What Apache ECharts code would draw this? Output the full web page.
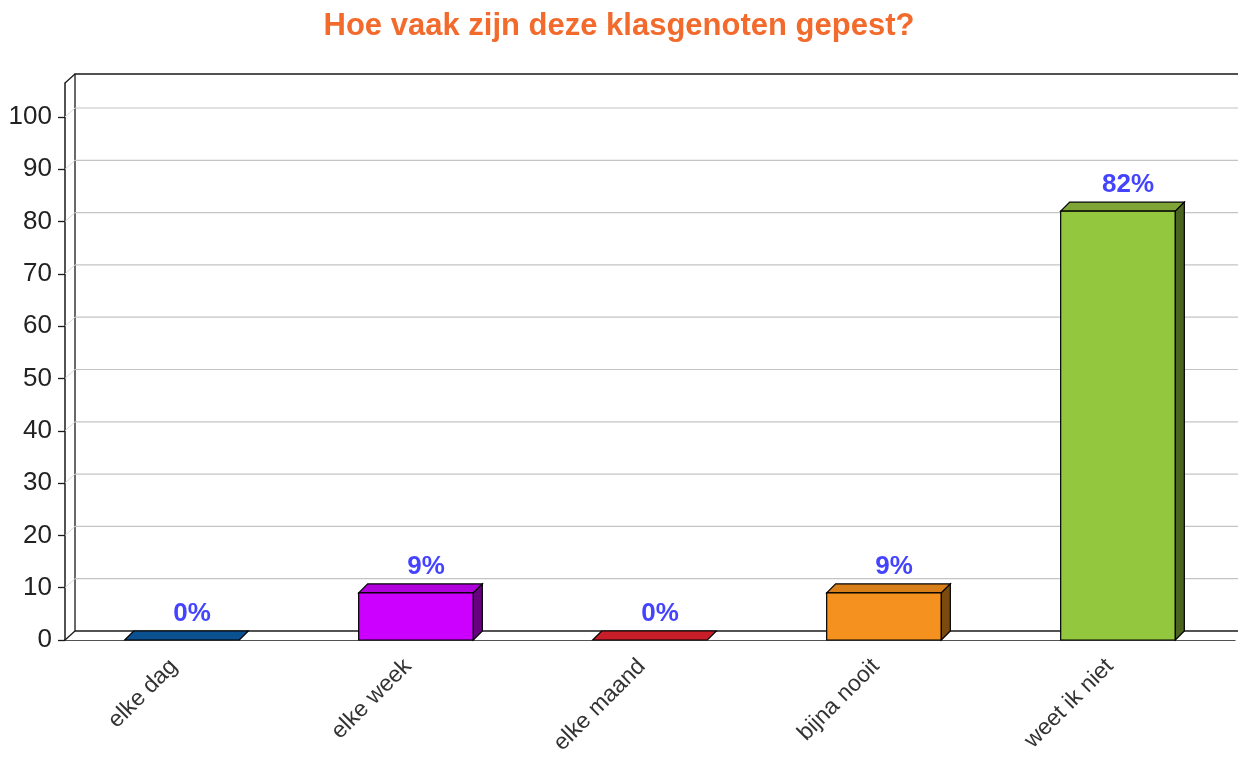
<!DOCTYPE html>
<html>
<head>
<meta charset="utf-8">
<script src="https://cdn.jsdelivr.net/npm/echarts@6/dist/echarts.min.js"></script>
<style>html,body{margin:0;padding:0;background:#fff}#c{width:1238px;height:758px}</style>
</head>
<body>
<div id="c"></div>
<script>
const titleText = 'Hoe vaak zijn deze klasgenoten gepest?';
const categories = ['elke dag', 'elke week', 'elke maand', 'bijna nooit', 'weet ik niet'];
const values = [0, 9, 0, 9, 82];
const yTicks = [0, 10, 20, 30, 40, 50, 60, 70, 80, 90, 100];
const barColors = [
  {front: '#0d5a9c', top: '#0b5190', side: '#073868'},
  {front: '#cc00ff', top: '#b000dc', side: '#66007f'},
  {front: '#d01f2c', top: '#c81e2a', side: '#6e1016'},
  {front: '#f5921f', top: '#d97f1a', side: '#7a4a10'},
  {front: '#92c73e', top: '#7ea535', side: '#4a6420'}
];

const FONT = '"Liberation Sans", Arial, sans-serif';
const BDX = 9, BDY = 9;   // bar depth
const WDX = 10, WDY = 9;  // wall depth

const chart = echarts.init(document.getElementById('c'), null, {renderer: 'canvas'});

function wallItem(params, api) {
  const cs = params.coordSys;
  const l = cs.x, r = cs.x + cs.width + 20, t = cs.y, b = cs.y + cs.height;
  const st = {stroke: '#1a1a1a', lineWidth: 1.3, fill: null};
  return {
    type: 'group',
    children: [
      {type: 'polygon', shape: {points: [[l, b], [l + WDX, b - WDY], [r, b - WDY], [r, b]]}, style: {fill: '#fff', stroke: null}},
      {type: 'polyline', shape: {points: [[l + WDX, b - WDY], [l + WDX, t - WDY], [r, t - WDY]]}, style: st},
      {type: 'line', shape: {x1: l, y1: t, x2: l + WDX, y2: t - WDY}, style: st},
      {type: 'line', shape: {x1: l + WDX, y1: b - WDY, x2: r, y2: b - WDY}, style: st},
      {type: 'line', shape: {x1: l, y1: b, x2: l + WDX, y2: b - WDY}, style: st}
    ]
  };
}

function gridItem(params, api) {
  const cs = params.coordSys;
  const l = cs.x, r = cs.x + cs.width + 20;
  const y = api.coord([0, api.value(1)])[1];
  return {
    type: 'group',
    children: [
      {type: 'line', shape: {x1: l + WDX, y1: y - WDY, x2: r, y2: y - WDY}, style: {stroke: '#c4c4c4', lineWidth: 1.2}},
      {type: 'line', shape: {x1: l, y1: y, x2: l + WDX, y2: y - WDY}, style: {stroke: '#d8d8d8', lineWidth: 1}}
    ]
  };
}

function barItem(params, api) {
  const i = api.value(0), v = api.value(1);
  const top = api.coord([i, v]);
  const base = api.coord([i, 0]);
  const band = api.size([1, 0])[0];
  const w = band * 0.49;
  const x0 = top[0] - w / 2, x1 = top[0] + w / 2, yT = top[1], yB = base[1];
  const c = barColors[params.dataIndex];
  const st = {stroke: '#000', lineWidth: 1.2};
  const children = [];
  children.push({type: 'polygon', shape: {points: [[x0, yT], [x1, yT], [x1 + BDX, yT - BDY], [x0 + BDX, yT - BDY]]},
    style: Object.assign({fill: c.top}, st)});
  if (v > 0) {
    children.push({type: 'rect', shape: {x: x0, y: yT, width: w, height: yB - yT}, style: Object.assign({fill: c.front}, st)});
    children.push({type: 'polygon', shape: {points: [[x1, yT], [x1 + BDX, yT - BDY], [x1 + BDX, yB - BDY], [x1, yB]]},
      style: Object.assign({fill: c.side}, st)});
  }
  children.push({type: 'text', style: {
    text: v + '%', x: top[0] + 10, y: yT - BDY - 17,
    textAlign: 'center', textVerticalAlign: 'middle',
    fill: '#4444ff', font: 'bold 26px ' + FONT
  }});
  return {type: 'group', children: children};
}

const option = {
  backgroundColor: '#fff',
  animation: false,
  title: {
    text: titleText, left: 'center', top: 6,
    textStyle: {color: '#f26b2d', fontSize: 31, fontWeight: 'bold', fontFamily: FONT}
  },
  grid: {left: 65, right: 3, top: 83, bottom: 118, containLabel: false},
  xAxis: {
    type: 'category', data: categories,
    axisLine: {lineStyle: {color: '#1a1a1a', width: 1.5}},
    axisTick: {alignWithLabel: true, length: 8, lineStyle: {color: '#1a1a1a', width: 1.3}},
    axisLabel: {rotate: 45, interval: 0, fontSize: 23, color: '#333', fontFamily: FONT, margin: 31, verticalAlign: 'bottom'},
    splitLine: {show: false}
  },
  yAxis: {
    type: 'value', min: 0, max: 106.5,
    axisLine: {show: true, lineStyle: {color: '#1a1a1a', width: 1.5}},
    axisTick: {show: true, length: 7, customValues: yTicks, lineStyle: {color: '#1a1a1a', width: 1.3}},
    axisLabel: {customValues: yTicks, fontSize: 26, color: '#222', fontFamily: FONT, margin: 13},
    splitLine: {show: false}
  },
  series: [
    {type: 'custom', renderItem: wallItem, data: [[0, 0]], encode: {x: 0, y: 1}, z: 1, silent: true},
    {type: 'custom', renderItem: gridItem, data: yTicks.filter(v => v > 0).map(v => [0, v]), encode: {x: 0, y: 1}, z: 2, silent: true},
    {type: 'custom', renderItem: barItem, data: values.map((v, i) => [i, v]), encode: {x: 0, y: 1}, z: 3}
  ]
};
chart.setOption(option);
</script>
</body>
</html>
